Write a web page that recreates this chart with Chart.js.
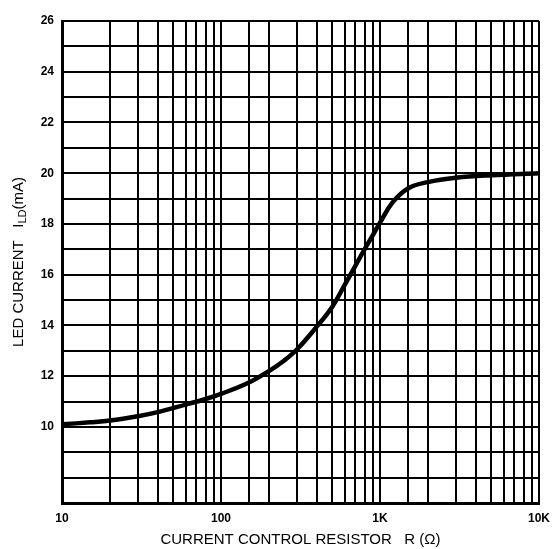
<!DOCTYPE html>
<html>
<head>
<meta charset="utf-8">
<script src="https://cdn.jsdelivr.net/npm/chart.js@4"></script>
<style>
  html, body { margin: 0; padding: 0; background: #fff; }
  #wrap { width: 552px; height: 549px; }
</style>
</head>
<body>
<div id="wrap"><canvas id="chart"></canvas></div>
<script>
// resistor values (ohm) and LED current (mA)
const resistance = [10, 15, 20, 30, 40, 60, 80, 100, 150, 200, 250, 300, 400, 500, 600, 700, 800, 900, 1000, 1200, 1500, 2000, 3000, 5000, 10000];
const ledCurrent = [10.1, 10.18, 10.25, 10.42, 10.58, 10.88, 11.1, 11.3, 11.75, 12.2, 12.62, 13.05, 13.95, 14.73, 15.6, 16.35, 17.0, 17.55, 18.05, 18.85, 19.4, 19.65, 19.82, 19.92, 20.0];

const xTickLabels = { 10: '10', 100: '100', 1000: '1K', 10000: '10K' };
const yTickLabels = [10, 12, 14, 16, 18, 20, 22, 24, 26];

const xTitle = 'CURRENT CONTROL RESISTOR   R (\u03a9)';

// y title has a subscript, so draw it by hand
const yTitlePlugin = {
  id: 'yTitle',
  afterDraw(chart) {
    const ctx = chart.ctx;
    const area = chart.chartArea;
    const big = '15px "Liberation Sans", Arial, sans-serif';
    const small = '11px "Liberation Sans", Arial, sans-serif';
    const parts = [
      { t: 'LED CURRENT   I', f: big, dy: 0 },
      { t: 'LD', f: small, dy: 4 },
      { t: '(mA)', f: big, dy: 0 },
    ];
    ctx.save();
    let total = 0;
    parts.forEach(p => { ctx.font = p.f; p.w = ctx.measureText(p.t).width; total += p.w; });
    ctx.translate(19, (area.top + area.bottom) / 2);
    ctx.rotate(-Math.PI / 2);
    ctx.fillStyle = '#000';
    ctx.textBaseline = 'middle';
    let x = -total / 2;
    parts.forEach(p => {
      ctx.font = p.f;
      ctx.fillText(p.t, x, p.dy);
      x += p.w;
    });
    ctx.restore();
  }
};

new Chart(document.getElementById('chart'), {
  type: 'line',
  data: {
    labels: resistance,
    datasets: [{
      data: resistance.map((r, i) => ({ x: r, y: ledCurrent[i] })),
      borderColor: '#000',
      borderWidth: 4.5,
      pointRadius: 0,
      tension: 0.4,
      fill: false,
    }]
  },
  options: {
    responsive: true,
    maintainAspectRatio: false,
    animation: false,
    layout: { padding: { left: 0, right: 13, top: 21, bottom: 0 } },
    plugins: {
      legend: { display: false },
      tooltip: { enabled: false },
    },
    scales: {
      x: {
        type: 'logarithmic',
        min: 10,
        max: 10000,
        grid: { color: '#000', lineWidth: 2, drawTicks: false },
        border: { color: '#000', width: 3 },
        ticks: {
          autoSkip: false,
          maxRotation: 0,
          padding: 8,
          color: '#000',
          font: { family: '"Liberation Sans", Arial, sans-serif', size: 12, weight: 'bold' },
          callback: (v) => xTickLabels[v] || '',
        },
        title: {
          display: true,
          text: xTitle,
          color: '#000',
          font: { family: '"Liberation Sans", Arial, sans-serif', size: 15 },
          padding: { top: 4, bottom: 0 },
        },
        afterFit(scale) {
          scale.height = 46;
          scale.paddingLeft = 0;
          scale.paddingRight = 0;
        },
      },
      y: {
        min: 7,
        max: 26,
        grid: { color: '#000', lineWidth: 2, drawTicks: false },
        border: { color: '#000', width: 3 },
        ticks: {
          stepSize: 1,
          autoSkip: false,
          padding: 8,
          color: '#000',
          font: { family: '"Liberation Sans", Arial, sans-serif', size: 12, weight: 'bold' },
          callback: (v) => yTickLabels.includes(v) ? String(v) : '',
        },
        afterFit(scale) {
          scale.width = 62;
          scale.paddingTop = 0;
          scale.paddingBottom = 0;
        },
      },
    },
  },
  plugins: [yTitlePlugin],
});
</script>
</body>
</html>
